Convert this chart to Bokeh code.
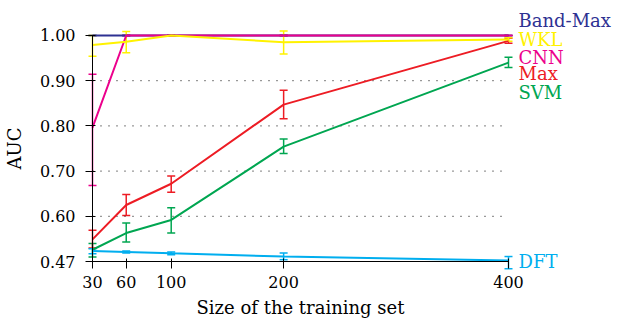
from bokeh.plotting import figure
from bokeh.models import (FixedTicker, PrintfTickFormatter, Whisker, ColumnDataSource,
                          Label, TeeHead, Range1d)
from bokeh.embed import file_html
from bokeh.resources import INLINE

# ---- data ----
sizes = [30, 60, 100, 200, 400]
x_ticks = [30, 60, 100, 200, 400]
y_ticks = [0.5, 0.6, 0.7, 0.8, 0.9, 1.0]
bottom_tick_label = "0.47"

names = ["SVM", "Max", "DFT", "Band-Max", "CNN", "WKL"]
colors = ["#00a651", "#ed1c24", "#00aeef", "#2e3192", "#ec008c", "#fff200"]

svm_auc = [0.526, 0.563, 0.592, 0.754, 0.940]
svm_lo = [0.510, 0.543, 0.563, 0.739, 0.929]
svm_hi = [0.540, 0.585, 0.619, 0.771, 0.952]

max_auc = [0.549, 0.625, 0.672, 0.847, 0.988]
max_lo = [0.530, 0.602, 0.653, 0.816, 0.983]
max_hi = [0.569, 0.648, 0.689, 0.879, 0.994]

dft_auc = [0.523, 0.521, 0.518, 0.511, 0.502]
dft_lo = [0.517, 0.519, 0.515, 0.504, 0.484]
dft_hi = [0.528, 0.523, 0.521, 0.519, 0.511]

bandmax_auc = [1.0, 1.0, 1.0, 1.0, 1.0]
bandmax_lo = [1.0, 1.0, 1.0, 1.0, 1.0]
bandmax_hi = [1.0, 1.0, 1.0, 1.0, 1.0]

cnn_auc = [0.796, 1.0, 1.0, 1.0, 1.0]
cnn_lo = [0.668, 1.0, 1.0, 1.0, 1.0]
cnn_hi = [0.914, 1.0, 1.0, 1.0, 1.0]

wkl_auc = [0.979, 0.986, 1.0, 0.985, 0.991]
wkl_lo = [0.954, 0.962, 0.999, 0.959, 0.987]
wkl_hi = [1.0, 1.009, 1.0, 1.010, 0.995]

series = [
    (svm_auc, svm_lo, svm_hi),
    (max_auc, max_lo, max_hi),
    (dft_auc, dft_lo, dft_hi),
    (bandmax_auc, bandmax_lo, bandmax_hi),
    (cnn_auc, cnn_lo, cnn_hi),
    (wkl_auc, wkl_lo, wkl_hi),
]
# vertical shift (px) of each end label so they do not overlap
label_shift = [-30, -33, -1, 15, -22, 0]

FONT = "DejaVu Serif"

p = figure(width=617, height=327,
           x_range=Range1d(-51.83, 496.95), y_range=Range1d(0.354, 1.0774),
           output_backend="svg", toolbar_location=None,
           min_border_left=0, min_border_right=0,
           min_border_top=0, min_border_bottom=0)
p.outline_line_color = None
p.background_fill_color = "white"
p.border_fill_color = "white"

# axes, pinned to the data origin (x = 30, y = 0.5 shown as "0.47")
p.xaxis.fixed_location = y_ticks[0]
p.yaxis.fixed_location = x_ticks[0]
p.xaxis.ticker = FixedTicker(ticks=x_ticks)
p.xaxis.bounds = (x_ticks[0], x_ticks[-1])
p.yaxis.ticker = FixedTicker(ticks=y_ticks)
p.yaxis.formatter = PrintfTickFormatter(format="%.2f")
p.yaxis.major_label_overrides = {y_ticks[0]: bottom_tick_label}
p.yaxis.bounds = (y_ticks[0], y_ticks[-1])
for ax in (p.xaxis[0], p.yaxis[0]):
    ax.axis_line_color = "black"
    ax.axis_line_width = 1
    ax.major_tick_line_color = "black"
    ax.major_tick_in = 3
    ax.major_tick_out = 7
    ax.minor_tick_line_color = None
    ax.major_label_text_font = FONT
    ax.major_label_text_font_size = "16px"
    ax.major_label_text_color = "black"
    ax.axis_label_text_font = FONT
    ax.axis_label_text_font_size = "18px"
    ax.axis_label_text_font_style = "normal"
    ax.axis_label_text_color = "black"
p.xaxis.axis_label = "Size of the training set"
p.yaxis.axis_label = "AUC"
p.xaxis.major_label_standoff = 7
p.yaxis.major_label_standoff = 10
p.xaxis.axis_label_standoff = 6
p.yaxis.axis_label_standoff = 12

# dotted horizontal grid, limited to the data extent
p.xgrid.grid_line_color = None
p.ygrid.grid_line_color = None
p.segment(x0=[sizes[0]] * len(y_ticks), x1=[sizes[-1]] * len(y_ticks),
          y0=y_ticks, y1=y_ticks, line_color="black", line_width=1,
          line_dash="1 7")

for name, color, (auc, lo, hi), shift in zip(names, colors, series, label_shift):
    src = ColumnDataSource(dict(x=sizes, y=auc, lo=lo, hi=hi))
    p.line("x", "y", source=src, line_color=color, line_width=2)
    w = Whisker(source=src, base="x", upper="hi", lower="lo",
                line_color=color, line_width=1.5,
                upper_head=TeeHead(size=8, line_color=color, line_width=1.5),
                lower_head=TeeHead(size=8, line_color=color, line_width=1.5))
    p.add_layout(w)
    p.add_layout(Label(x=sizes[-1], y=auc[-1], x_offset=10, y_offset=shift,
                       text=name, text_color=color, text_font=FONT,
                       text_font_size="18px", text_baseline="middle"))

open("out.html", "w").write(file_html(p, INLINE))
